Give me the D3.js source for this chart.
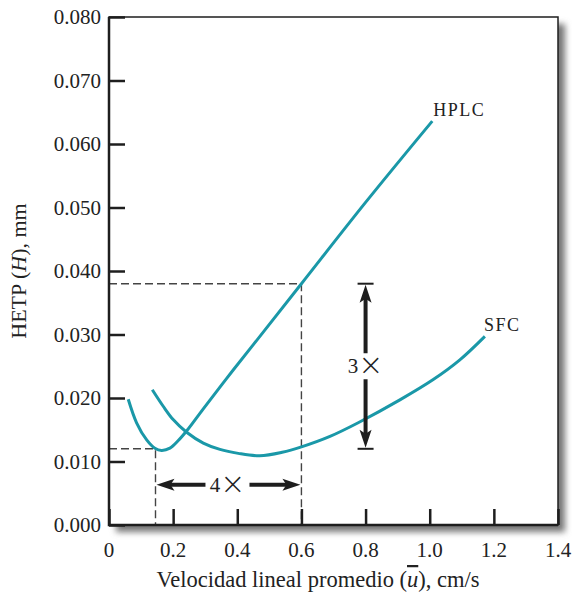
<!DOCTYPE html>
<html><head><meta charset="utf-8">
<script src="https://cdn.jsdelivr.net/npm/d3@7"></script>
<style>body{margin:0;background:#fff}svg{display:block}text{font-family:"Liberation Serif","DejaVu Serif",serif;fill:#222}</style>
</head><body><svg id="c" width="572" height="595"></svg>
<script>
const xTicks = [0, 0.2, 0.4, 0.6, 0.8, 1.0, 1.2, 1.4];
const xTickLabels = ["0", "0.2", "0.4", "0.6", "0.8", "1.0", "1.2", "1.4"];
const yTicks = [0, 0.01, 0.02, 0.03, 0.04, 0.05, 0.06, 0.07, 0.08];
const yTickLabels = ["0.000", "0.010", "0.020", "0.030", "0.040", "0.050", "0.060", "0.070", "0.080"];
const hplcU = [0.06, 0.086, 0.1175, 0.143, 0.164, 0.19, 0.216, 0.245, 0.294, 0.367, 0.45, 0.6, 0.8, 1.008];
const hplcH = [0.0198, 0.0161, 0.0134, 0.0121, 0.01175, 0.0121, 0.0133, 0.0150, 0.0183, 0.0231, 0.0284, 0.038, 0.0508, 0.0636];
const sfcU = [0.135, 0.169, 0.2, 0.242, 0.294, 0.346, 0.403, 0.47, 0.54, 0.6, 0.689, 0.777, 0.907, 1.011, 1.094, 1.172];
const sfcH = [0.0213, 0.0187, 0.0166, 0.0146, 0.0129, 0.0119, 0.01128, 0.0109, 0.01145, 0.0123, 0.01395, 0.0161, 0.0197, 0.0229, 0.026, 0.0297];
const refHigh = {u: 0.6, h: 0.038};
const refLow = {u: 0.145, h: 0.012};
const arrow3 = {u: 0.8, h0: 0.012, h1: 0.038, label: "3"};
const arrow4 = {h: 0.00635, u0: 0.145, u1: 0.6, label: "4"};

const L = 109, R = 558, T = 17, B = 525;
const svg = d3.select("#c");
const x = d3.scaleLinear().domain([0, 1.4]).range([L, R]);
const y = d3.scaleLinear().domain([0, 0.08]).range([B, T]);
const teal = "#1a98a8", ink = "#1e1e1e";

const defs = svg.append("defs");
const f = defs.append("filter").attr("id", "sh").attr("x", "-10%").attr("y", "-10%").attr("width", "130%").attr("height", "130%");
f.append("feGaussianBlur").attr("stdDeviation", 3);
svg.append("rect").attr("x", L + 7).attr("y", T + 7).attr("width", R - L).attr("height", B - T)
  .attr("fill", "#777").attr("filter", "url(#sh)");
svg.append("rect").attr("x", L).attr("y", T).attr("width", R - L).attr("height", B - T).attr("fill", "#fff");

// dashed reference lines
const dash = svg.append("g").attr("stroke", "#444").attr("stroke-width", 1.4).attr("stroke-dasharray", "8,4").attr("fill", "none");
dash.append("path").attr("d", `M${x(0)},${y(refHigh.h)}H${x(refHigh.u)}V${y(0)}`);
dash.append("path").attr("d", `M${x(0)},${y(refLow.h)}H${x(refLow.u)}V${y(0)}`);

// curves
const line = d3.line().x(d => x(d[0])).y(d => y(d[1])).curve(d3.curveCatmullRom.alpha(0.5));
svg.append("path").attr("d", line(hplcU.map((u, i) => [u, hplcH[i]]))).attr("fill", "none").attr("stroke", teal).attr("stroke-width", 3);
svg.append("path").attr("d", line(sfcU.map((u, i) => [u, sfcH[i]]))).attr("fill", "none").attr("stroke", teal).attr("stroke-width", 3);

svg.append("text").attr("x", x(1.008) + 1).attr("y", 116).attr("font-size", 18).attr("letter-spacing", 1.5).text("HPLC");
svg.append("text").attr("x", x(1.172) - 1).attr("y", 331).attr("font-size", 18).attr("letter-spacing", 1.5).text("SFC");

function timesLabel(g, cx, cy, digit) {
  const t = g.append("text").attr("x", cx).attr("y", cy).attr("text-anchor", "middle").attr("font-size", 21).attr("fill", "#333");
  t.append("tspan").text(digit);
  t.append("tspan").attr("font-size", 30).attr("dy", 2).attr("font-family", "DejaVu Sans").attr("font-weight", 200).text("×");
}

// 3x arrow
const ax = x(arrow3.u), ya = y(arrow3.h1), yb = y(arrow3.h0);
const ym = (ya + yb) / 2;
const g3 = svg.append("g");
g3.append("line").attr("x1", ax - 8).attr("x2", ax + 8).attr("y1", ya).attr("y2", ya).attr("stroke", ink).attr("stroke-width", 2);
g3.append("line").attr("x1", ax - 8).attr("x2", ax + 8).attr("y1", yb).attr("y2", yb).attr("stroke", ink).attr("stroke-width", 2);
g3.append("line").attr("x1", ax).attr("x2", ax).attr("y1", ya + 12).attr("y2", ym - 13).attr("stroke", ink).attr("stroke-width", 4);
g3.append("line").attr("x1", ax).attr("x2", ax).attr("y1", ym + 13).attr("y2", yb - 12).attr("stroke", ink).attr("stroke-width", 4);
g3.append("path").attr("d", `M${ax},${ya + 1}L${ax - 6},${ya + 19}L${ax},${ya + 15}L${ax + 6},${ya + 19}Z`).attr("fill", ink);
g3.append("path").attr("d", `M${ax},${yb - 1}L${ax - 6},${yb - 19}L${ax},${yb - 15}L${ax + 6},${yb - 19}Z`).attr("fill", ink);
timesLabel(g3, ax, ym + 7, arrow3.label);

// 4x arrow
const ay = y(arrow4.h), xa = x(arrow4.u0), xb = x(arrow4.u1);
const xm = (xa + xb) / 2 - 1;
const g4 = svg.append("g");
g4.append("line").attr("x1", xa + 12).attr("x2", xm - 22).attr("y1", ay).attr("y2", ay).attr("stroke", ink).attr("stroke-width", 4);
g4.append("line").attr("x1", xm + 22).attr("x2", xb - 12).attr("y1", ay).attr("y2", ay).attr("stroke", ink).attr("stroke-width", 4);
g4.append("path").attr("d", `M${xa + 1},${ay}L${xa + 19},${ay - 6}L${xa + 15},${ay}L${xa + 19},${ay + 6}Z`).attr("fill", ink);
g4.append("path").attr("d", `M${xb - 1},${ay}L${xb - 19},${ay - 6}L${xb - 15},${ay}L${xb - 19},${ay + 6}Z`).attr("fill", ink);
timesLabel(g4, xm, ay + 7, arrow4.label);

// frame
svg.append("rect").attr("x", L).attr("y", T).attr("width", R - L).attr("height", B - T).attr("fill", "none").attr("stroke", ink).attr("stroke-width", 1.5);
svg.append("path").attr("d", `M${L},${T}V${B}H${R}`).attr("fill", "none").attr("stroke", ink).attr("stroke-width", 2.5);

// axes (ticks inward)
const xAxis = d3.axisTop(x).tickValues(xTicks).tickSize(16).tickFormat("");
svg.append("g").attr("transform", `translate(0,${B})`).call(xAxis)
  .call(g => g.select(".domain").remove())
  .call(g => g.selectAll(".tick line").attr("stroke", ink).attr("stroke-width", 2.5));
const yAxis = d3.axisRight(y).tickValues(yTicks).tickSize(16).tickFormat("");
svg.append("g").attr("transform", `translate(${L},0)`).call(yAxis)
  .call(g => g.select(".domain").remove())
  .call(g => g.selectAll(".tick line").attr("stroke", ink).attr("stroke-width", 2.5));

svg.append("g").selectAll("text").data(xTicks).join("text")
  .attr("x", d => x(d)).attr("y", 557).attr("text-anchor", "middle").attr("font-size", 21)
  .text((d, i) => xTickLabels[i]);
svg.append("g").selectAll("text").data(yTicks).join("text")
  .attr("x", 101).attr("y", d => y(d) + 7).attr("text-anchor", "end").attr("font-size", 21)
  .text((d, i) => yTickLabels[i]);

// axis titles
const xt = svg.append("text").attr("x", 318).attr("y", 587).attr("text-anchor", "middle").attr("font-size", 22.5);
xt.append("tspan").text("Velocidad lineal promedio (");
xt.append("tspan").attr("font-style", "italic").attr("text-decoration", "overline").text("u");
xt.append("tspan").text("), cm/s");

const yt = svg.append("text").attr("transform", "translate(26,271) rotate(-90)").attr("text-anchor", "middle").attr("font-size", 22);
yt.append("tspan").text("HETP (");
yt.append("tspan").attr("font-style", "italic").text("H");
yt.append("tspan").text("), mm");
</script></body></html>
